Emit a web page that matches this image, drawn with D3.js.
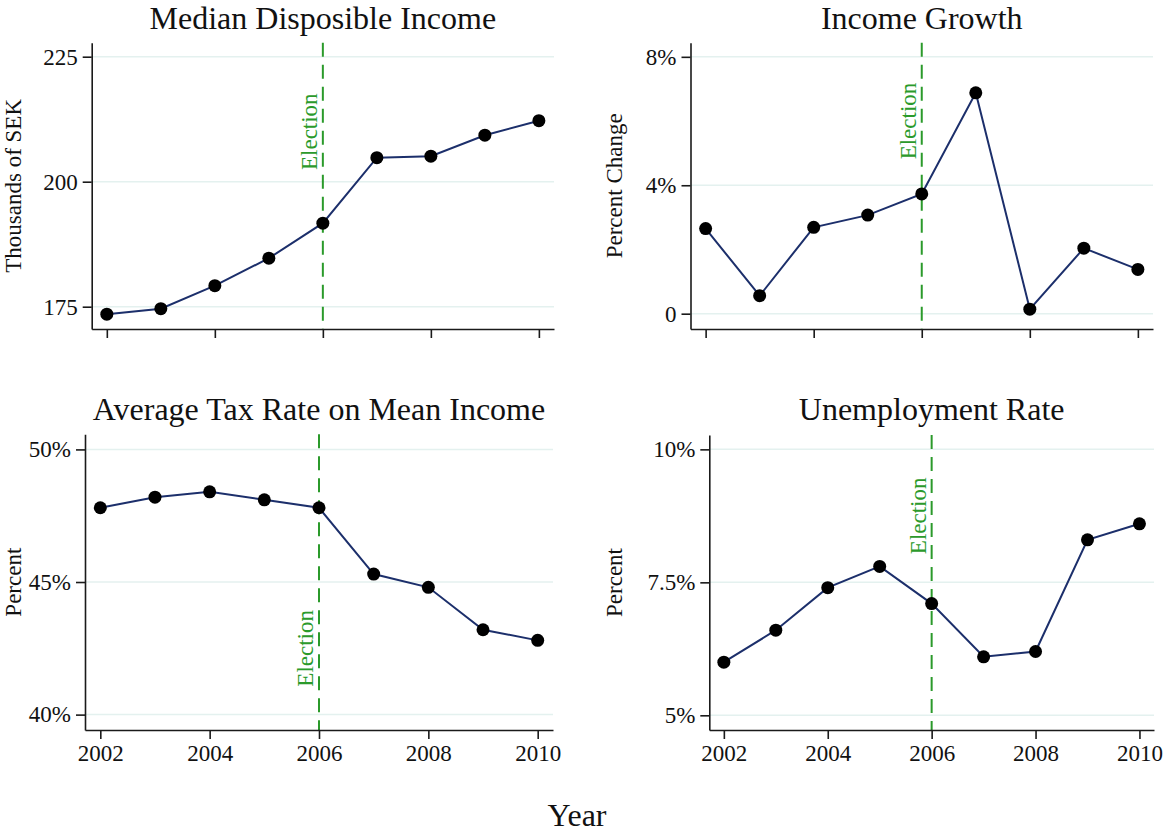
<!DOCTYPE html>
<meta charset="utf-8">
<style>
  body { margin: 0; background: #fff; }
  text { font-family: "Liberation Serif", "Times New Roman", serif; }
</style>

<!-- Load d3.js -->
<script src="https://d3js.org/d3.v7.min.js"></script>

<div id="my_dataviz"></div>

<script>

    // ---- data ----
    var years = [2002, 2003, 2004, 2005, 2006, 2007, 2008, 2009, 2010];
    var xTicks = [2002, 2004, 2006, 2008, 2010];
    var electionYear = 2006;

    // median disposable income, thousands of SEK
    var incomeValues = [173.5, 174.6, 179.2, 184.7, 191.7, 204.8, 205.1, 209.3, 212.2];
    var incomeTicks = [175, 200, 225];
    var incomeTickLabels = ["175", "200", "225"];

    // income growth, percent change
    var growthValues = [2.65, 0.56, 2.69, 3.07, 3.73, 6.88, 0.14, 2.04, 1.38];
    var growthTicks = [0, 4, 8];
    var growthTickLabels = ["0", "4%", "8%"];

    // average tax rate on mean income, percent
    var taxValues = [47.8, 48.2, 48.4, 48.1, 47.8, 45.3, 44.8, 43.2, 42.8];
    var taxTicks = [40, 45, 50];
    var taxTickLabels = ["40%", "45%", "50%"];

    // unemployment rate, percent
    var unempValues = [6.0, 6.6, 7.4, 7.8, 7.1, 6.1, 6.2, 8.3, 8.6];
    var unempTicks = [5, 7.5, 10];
    var unempTickLabels = ["5%", "7.5%", "10%"];

    // ---- layout ----
    var W = 1166, H = 836;
    var green = "#2b9a2b", navy = "#1c2f6b";

    var panels = [
      {title: "Median Disposible Income", ytitle: "Thousands of SEK",
       values: incomeValues, ticks: incomeTicks, labels: incomeTickLabels,
       ydomain: [170.54, 227.8], labelAt: 210,
       left: 91.7, right: 554, top: 42.7, bottom: 329, titleX: 21, xLabels: false},
      {title: "Income Growth", ytitle: "Percent Change",
       values: growthValues, ticks: growthTicks, labels: growthTickLabels,
       ydomain: [-0.477, 8.44], labelAt: 6,
       left: 690.5, right: 1153, top: 42.7, bottom: 329, titleX: 622, xLabels: false},
      {title: "Average Tax Rate on Mean Income", ytitle: "Percent",
       values: taxValues, ticks: taxTicks, labels: taxTickLabels,
       ydomain: [39.42, 50.57], labelAt: 42.5,
       left: 85, right: 553, top: 434.3, bottom: 730, titleX: 21, xLabels: true},
      {title: "Unemployment Rate", ytitle: "Percent",
       values: unempValues, ticks: unempTicks, labels: unempTickLabels,
       ydomain: [4.724, 10.27], labelAt: 8.75,
       left: 709.3, right: 1154, top: 435, bottom: 730, titleX: 622, xLabels: true}
    ];

    var svg = d3.select("#my_dataviz")
      .append("svg")
        .attr("width", W)
        .attr("height", H);

    svg.append("rect").attr("width", W).attr("height", H).attr("fill", "#fff");

    panels.forEach(function(p) {
      var x = d3.scaleLinear()
        .domain([2001.72, 2010.28])
        .range([p.left, p.right]);
      var y = d3.scaleLinear()
        .domain(p.ydomain)
        .range([p.bottom, p.top]);

      var g = svg.append("g");

      // gridlines
      g.selectAll(".grid")
        .data(p.ticks)
        .enter()
        .append("line")
          .attr("x1", p.left)
          .attr("x2", p.right)
          .attr("y1", function(d) { return y(d); })
          .attr("y2", function(d) { return y(d); })
          .attr("stroke", "#e4f1ef")
          .attr("stroke-width", 1.5);

      // election marker
      g.append("line")
        .attr("x1", x(electionYear))
        .attr("x2", x(electionYear))
        .attr("y1", p.top)
        .attr("y2", p.bottom)
        .attr("stroke", green)
        .attr("stroke-width", 2)
        .attr("stroke-dasharray", "14,8");

      g.append("text")
        .attr("transform", "translate(" + (x(electionYear) - 6) + "," + y(p.labelAt) + ") rotate(-90)")
        .attr("text-anchor", "middle")
        .attr("fill", green)
        .style("font-size", "23px")
        .text("Election");

      // series
      var line = d3.line()
        .x(function(d, i) { return x(years[i]); })
        .y(function(d) { return y(d); });

      g.append("path")
        .datum(p.values)
        .attr("d", line)
        .attr("fill", "none")
        .attr("stroke", navy)
        .attr("stroke-width", 2);

      g.selectAll(".pt")
        .data(p.values)
        .enter()
        .append("circle")
          .attr("cx", function(d, i) { return x(years[i]); })
          .attr("cy", function(d) { return y(d); })
          .attr("r", 6.5)
          .attr("fill", "#000");

      // axes
      var yAxis = d3.axisLeft(y)
        .tickValues(p.ticks)
        .tickFormat(function(d, i) { return p.labels[i]; })
        .tickSize(9)
        .tickSizeOuter(0)
        .tickPadding(5);
      var ya = g.append("g")
        .attr("transform", "translate(" + p.left + ",0)")
        .call(yAxis);

      var xAxis = d3.axisBottom(x)
        .tickValues(xTicks)
        .tickFormat(p.xLabels ? d3.format("d") : function() { return ""; })
        .tickSize(9)
        .tickSizeOuter(0)
        .tickPadding(6);
      var xa = g.append("g")
        .attr("transform", "translate(0," + p.bottom + ")")
        .call(xAxis);

      [ya, xa].forEach(function(a) {
        a.select(".domain").attr("stroke", "#1a1a1a").attr("stroke-width", 1.6);
        a.selectAll(".tick line").attr("stroke", "#1a1a1a").attr("stroke-width", 1.6);
        a.selectAll(".tick text")
          .attr("fill", "#111")
          .style("font-family", "'Liberation Serif', 'Times New Roman', serif")
          .style("font-size", "23px");
      });

      // titles
      g.append("text")
        .attr("x", (p.left + p.right) / 2)
        .attr("y", p.top < 100 ? 29 : 420)
        .attr("text-anchor", "middle")
        .attr("fill", "#111")
        .style("font-size", "32px")
        .text(p.title);

      g.append("text")
        .attr("transform", "translate(" + p.titleX + "," + (p.top + p.bottom) / 2 + ") rotate(-90)")
        .attr("text-anchor", "middle")
        .attr("fill", "#111")
        .style("font-size", "23px")
        .text(p.ytitle);
    });

    svg.append("text")
      .attr("x", 577)
      .attr("y", 826)
      .attr("text-anchor", "middle")
      .attr("fill", "#111")
      .style("font-size", "32px")
      .text("Year");

</script>
